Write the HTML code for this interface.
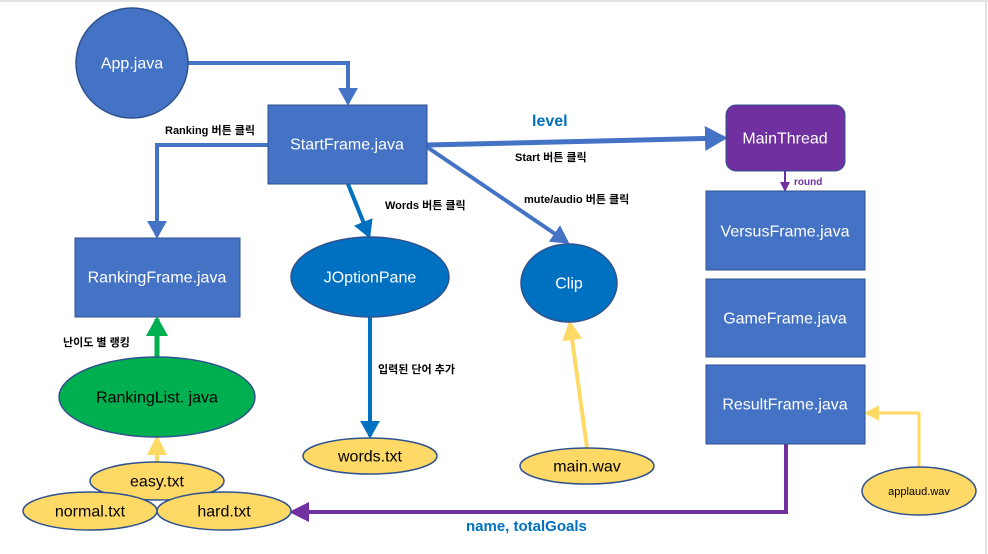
<!DOCTYPE html>
<html><head><meta charset="utf-8"><style>
html,body{margin:0;padding:0;background:#fff}
svg{display:block}
text{font-family:"Liberation Sans","Noto Sans CJK KR",sans-serif}
.w{fill:#fff;font-size:16px;text-anchor:middle;dominant-baseline:central}
.k{fill:#000;font-size:16px;text-anchor:middle;dominant-baseline:central}
.l{fill:#000;font-size:11px;font-weight:bold}
</style></head><body>
<svg width="988" height="554" viewBox="0 0 988 554" xmlns="http://www.w3.org/2000/svg">
<defs>
<marker id="ab" markerWidth="4.5" markerHeight="5" refX="3.8" refY="2.5" orient="auto" markerUnits="strokeWidth"><path d="M0,0 L4.5,2.5 L0,5 z" fill="#4472C4"/></marker>
<marker id="ad" markerWidth="4.5" markerHeight="5" refX="3.8" refY="2.5" orient="auto" markerUnits="strokeWidth"><path d="M0,0 L4.5,2.5 L0,5 z" fill="#0070C0"/></marker>
<marker id="ay" markerWidth="5" markerHeight="5" refX="4" refY="2.5" orient="auto" markerUnits="strokeWidth"><path d="M0,0 L5,2.5 L0,5 z" fill="#FFD966"/></marker>
<marker id="ag" markerWidth="4" markerHeight="4.4" refX="3.4" refY="2.2" orient="auto" markerUnits="strokeWidth"><path d="M0,0 L4,2.2 L0,4.4 z" fill="#00B050"/></marker>
<marker id="ap" markerWidth="5" markerHeight="5" refX="4" refY="2.5" orient="auto" markerUnits="strokeWidth"><path d="M0,0 L5,2.5 L0,5 z" fill="#7030A0"/></marker>
</defs>
<line x1="0" y1="1" x2="988" y2="1" stroke="#e2e2e2" stroke-width="2"/>
<line x1="986" y1="0" x2="986" y2="554" stroke="#e2e2e2" stroke-width="2"/>

<polyline points="188,63 348,63 348,103" fill="none" stroke="#4472C4" stroke-width="4" marker-end="url(#ab)"/>
<polyline points="268,145 157,145 157,236" fill="none" stroke="#4472C4" stroke-width="4" marker-end="url(#ab)"/>
<line x1="427" y1="145" x2="724" y2="138" stroke="#4472C4" stroke-width="5" marker-end="url(#ab)"/>
<line x1="348" y1="184" x2="369" y2="236" stroke="#0070C0" stroke-width="4" marker-end="url(#ad)"/>
<line x1="427" y1="147" x2="567" y2="242" stroke="#4472C4" stroke-width="4" marker-end="url(#ab)"/>
<line x1="587" y1="448" x2="570" y2="324" stroke="#FFD966" stroke-width="4" marker-end="url(#ay)"/>
<line x1="157" y1="462" x2="157" y2="439" stroke="#FFD966" stroke-width="4" marker-end="url(#ay)"/>
<line x1="157" y1="357" x2="157" y2="319" stroke="#00B050" stroke-width="5" marker-end="url(#ag)"/>
<line x1="370" y1="317" x2="370" y2="436" stroke="#0070C0" stroke-width="4" marker-end="url(#ad)"/>
<line x1="785" y1="171" x2="785" y2="190" stroke="#7030A0" stroke-width="2" marker-end="url(#ap)"/>
<polyline points="786,444 786,512 293,512" fill="none" stroke="#7030A0" stroke-width="4" marker-end="url(#ap)"/>
<polyline points="919,467 919,413 867,413" fill="none" stroke="#FFD966" stroke-width="3" marker-end="url(#ay)"/>

<ellipse cx="132" cy="63" rx="56" ry="55" fill="#4472C4" stroke="#2F528F" stroke-width="1.5"/>
<text x="132" y="64" class="w">App.java</text>
<rect x="268" y="105" width="159" height="79" fill="#4472C4" stroke="#2F528F"/>
<text x="347" y="145" class="w">StartFrame.java</text>
<rect x="75" y="238" width="165" height="79" fill="#4472C4" stroke="#2F528F"/>
<text x="157" y="278" class="w">RankingFrame.java</text>
<ellipse cx="370" cy="277" rx="79" ry="40" fill="#0070C0" stroke="#2F528F" stroke-width="1.5"/>
<text x="370" y="278" class="w">JOptionPane</text>
<ellipse cx="569" cy="283" rx="48" ry="39" fill="#0070C0" stroke="#2F528F" stroke-width="1.5"/>
<text x="569" y="284" class="w">Clip</text>
<rect x="726" y="105" width="119" height="66" rx="10" fill="#7030A0" stroke="#2F528F"/>
<text x="785" y="139" class="w">MainThread</text>
<rect x="706" y="191" width="159" height="79" fill="#4472C4" stroke="#2F528F"/>
<text x="785" y="232" class="w">VersusFrame.java</text>
<rect x="706" y="279" width="159" height="78" fill="#4472C4" stroke="#2F528F"/>
<text x="785" y="319" class="w">GameFrame.java</text>
<rect x="706" y="365" width="159" height="79" fill="#4472C4" stroke="#2F528F"/>
<text x="785" y="405" class="w">ResultFrame.java</text>
<ellipse cx="157" cy="397" rx="98" ry="40" fill="#00B050" stroke="#2F528F" stroke-width="1.5"/>
<text x="157" y="398" class="k">RankingList. java</text>
<ellipse cx="157" cy="481" rx="67" ry="19" fill="#FFD966" stroke="#2F528F" stroke-width="1.5"/>
<text x="157" y="482" class="k">easy.txt</text>
<ellipse cx="90" cy="511" rx="67" ry="19" fill="#FFD966" stroke="#2F528F" stroke-width="1.5"/>
<text x="90" y="512" class="k">normal.txt</text>
<ellipse cx="224" cy="511" rx="67" ry="19" fill="#FFD966" stroke="#2F528F" stroke-width="1.5"/>
<text x="224" y="512" class="k">hard.txt</text>
<ellipse cx="370" cy="456" rx="67" ry="18" fill="#FFD966" stroke="#2F528F" stroke-width="1.5"/>
<text x="370" y="457" class="k">words.txt</text>
<ellipse cx="587" cy="466" rx="67" ry="18" fill="#FFD966" stroke="#2F528F" stroke-width="1.5"/>
<text x="587" y="467" class="k">main.wav</text>
<ellipse cx="919" cy="491" rx="57" ry="24" fill="#FFD966" stroke="#2F528F" stroke-width="1.5"/>
<text x="919" y="492" class="k" style="font-size:11px">applaud.wav</text>

<text x="165" y="134" class="l">Ranking 버튼 클릭</text>
<text x="532" y="126" style="fill:#0070C0;font-size:16px;font-weight:bold">level</text>
<text x="515" y="161" class="l">Start 버튼 클릭</text>
<text x="385" y="209" class="l">Words 버튼 클릭</text>
<text x="524" y="203" class="l">mute/audio 버튼 클릭</text>
<text x="794" y="185" style="fill:#7030A0;font-size:10px;font-weight:bold">round</text>
<text x="63" y="346" class="l">난이도 별 랭킹</text>
<text x="378" y="373" class="l">입력된 단어 추가</text>
<text x="466" y="531" style="fill:#0070C0;font-size:15px;font-weight:bold">name, totalGoals</text>
</svg>
</body></html>
